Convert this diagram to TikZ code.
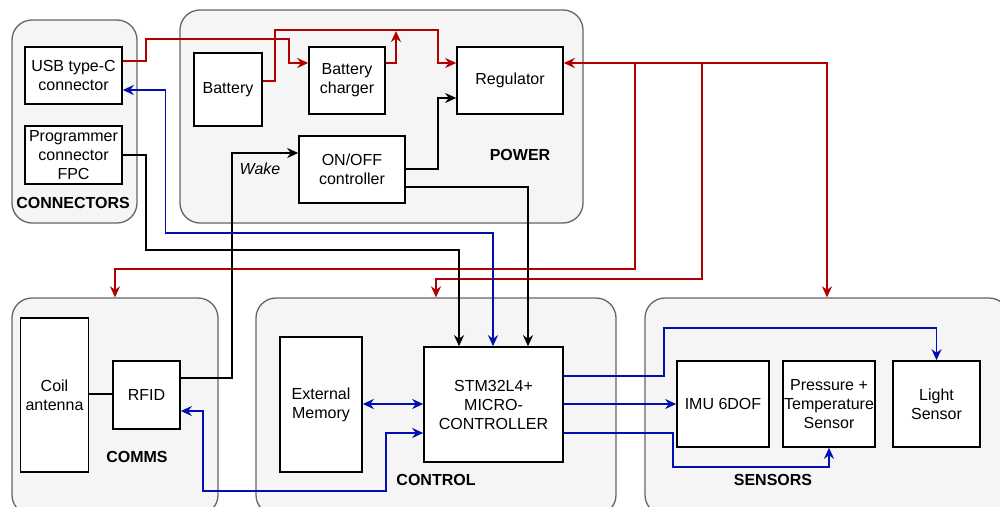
\documentclass[tikz,border=0pt]{standalone}
\usepackage{fontspec}
\setmainfont{Liberation Sans}
\usetikzlibrary{arrows.meta}

\begin{document}
\begin{tikzpicture}[x=1pt, y=-1pt,
    font=\fontsize{16}{19}\selectfont,
    group/.style={draw=groupBorder, fill=groupFill, line width=1.3pt, rounded corners=20pt, inner sep=0pt},
    block/.style={draw=black, fill=white, line width=1.6pt, align=center, inner sep=0pt},
    grouplabel/.style={font=\fontsize{16}{19}\selectfont\bfseries},
    wire/.style={line width=1.6pt, -{Stealth[length=11pt, width=10pt, inset=3.5pt]}},
    twoway/.style={line width=1.6pt, {Stealth[length=11pt, width=10pt, inset=3.5pt]}-{Stealth[length=11pt, width=10pt, inset=3.5pt]}}]

    \definecolor{groupBorder}{HTML}{666666}
    \definecolor{groupFill}{HTML}{F5F5F5}
    \definecolor{powerRed}{HTML}{B20000}
    \definecolor{busBlue}{HTML}{0010B0}

    \useasboundingbox (0,0) rectangle (1000,506);

    % Draw groups
    \node[group, minimum width=125pt, minimum height=203pt] (connectors) at (74.5,121.5) {};
    \node[group, minimum width=403pt, minimum height=213pt] (power) at (381.5,116.5) {};
    \node[group, minimum width=206pt, minimum height=217pt] (comms) at (115,406.5) {};
    \node[group, minimum width=360pt, minimum height=217pt] (control) at (436,406.5) {};
    \node[group, minimum width=364pt, minimum height=217pt] (sensors) at (827,406.5) {};

    \node[grouplabel] (connectorsLabel) at (73,203) {CONNECTORS};
    \node[grouplabel] (powerLabel) at (520,155) {POWER};
    \node[grouplabel] (commsLabel) at (137,457) {COMMS};
    \node[grouplabel] (controlLabel) at (436,480) {CONTROL};
    \node[grouplabel] (sensorsLabel) at (773,480) {SENSORS};

    % Connectors
    \node[block, minimum width=97pt, minimum height=57pt] (usb) at (73.5,75.5) {USB type-C\\connector};
    \node[block, minimum width=97pt, minimum height=58pt] (prog) at (73.5,155) {Programmer\\connector\\FPC};

    % Power
    \node[block, minimum width=68pt, minimum height=73pt] (battery) at (228,89.5) {Battery};
    \node[block, minimum width=76pt, minimum height=67pt] (charger) at (347,80.5) {Battery\\charger};
    \node[block, minimum width=106pt, minimum height=67pt] (regulator) at (510,80.5) {Regulator};
    \node[block, minimum width=106pt, minimum height=67pt] (onoff) at (352,169.5) {ON/OFF\\controller};
    \node[font=\fontsize{16}{19}\selectfont\itshape] (wake) at (260,169) {Wake};

    % Comms
    \node[block, minimum width=68pt, minimum height=154pt] (coil) at (54.5,395) {Coil\\antenna};
    \node[block, minimum width=67pt, minimum height=68pt] (rfid) at (146.5,395) {RFID};

    % Control
    \node[block, minimum width=82pt, minimum height=135pt] (extmem) at (321,404.5) {External\\Memory};
    \node[block, minimum width=139pt, minimum height=115pt] (stm) at (493.5,404.5) {STM32L4+\\MICRO-\\CONTROLLER};

    % Sensors
    \node[block, minimum width=92pt, minimum height=86pt] (imu) at (723,404) {IMU 6DOF};
    \node[block, minimum width=92pt, minimum height=86pt] (pressure) at (829,404) {Pressure +\\Temperature\\Sensor};
    \node[block, minimum width=87pt, minimum height=86pt] (light) at (936.5,404) {Light\\Sensor};

    % Power lines
    \draw[wire, powerRed] (usb.east |- 0,61) -- (146,61) -- (146,39) -- (289,39) -- (289,63) -- (charger.west |- 0,63);
    \draw[wire, powerRed] (battery.east |- 0,81) -- (275,81) -- (275,30) -- (438,30) -- (438,63) -- (regulator.west |- 0,63);
    \draw[wire, powerRed] (charger.east |- 0,63) -- (396,63) -- (396,31);
    \draw[twoway, powerRed] (regulator.east |- 0,63) -- (827,63) -- (sensors.north);
    \draw[wire, powerRed] (635,63) -- (635,269) -- (115,269) -- (comms.north);
    \draw[wire, powerRed] (702,63) -- (702,279) -- (436,279) -- (control.north);

    % Control lines
    \draw[wire] (onoff.east |- 0,169) -- (438,169) -- (438,98) -- (regulator.west |- 0,98);
    \draw[wire] (onoff.east |- 0,187) -- (528,187) -- (528,0 |- stm.north);
    \draw[wire] (rfid.east |- 0,378) -- (232,378) -- (232,153) -- (onoff.west |- 0,153);
    \draw[wire] (prog.east |- 0,155) -- (146,155) -- (146,250) -- (459,250) -- (459,0 |- stm.north);
    \draw[line width=1.6pt] (coil.east |- 0,394) -- (rfid.west |- 0,394);

    % Data lines
    \draw[twoway, busBlue] (usb.east |- 0,90) -- (165.5,90) -- (165.5,233) -- (493,233) -- (493,0 |- stm.north);
    \draw[twoway, busBlue] (rfid.east |- 0,411) -- (203,411) -- (203,491) -- (386,491) -- (386,433) -- (stm.west |- 0,433);
    \draw[twoway, busBlue] (extmem.east |- 0,404) -- (stm.west |- 0,404);
    \draw[wire, busBlue] (stm.east |- 0,404) -- (imu.west |- 0,404);
    \draw[wire, busBlue] (stm.east |- 0,376) -- (664,376) -- (664,328) -- (936.5,328) -- (light.north);
    \draw[wire, busBlue] (stm.east |- 0,433) -- (673,433) -- (673,467) -- (829,467) -- (pressure.south);

\end{tikzpicture}
\end{document}
